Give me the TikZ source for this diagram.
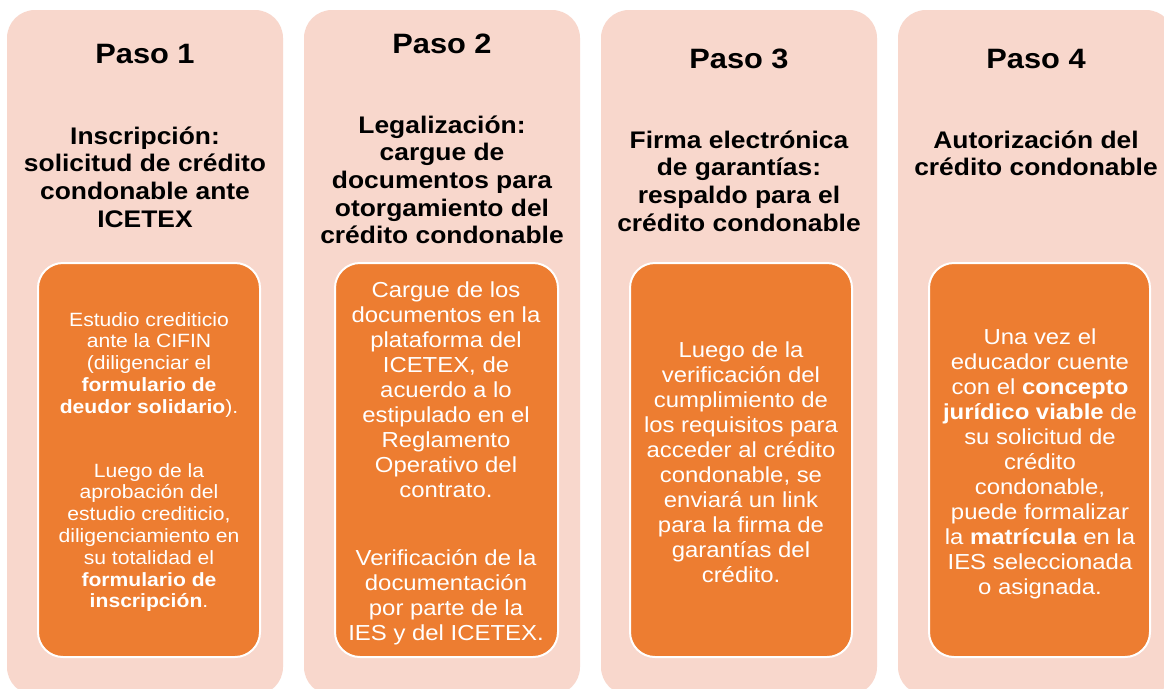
\documentclass[tikz,border=0pt]{standalone}
\usepackage{fontspec}
\setmainfont[FakeStretch=1.1]{Liberation Sans}
\definecolor{peach}{HTML}{F8D7CC}
\definecolor{orng}{HTML}{ED7D31}
\newcommand\linestack[1]{\vtop{\lineskiplimit=-\maxdimen\halign{\hfil##\hfil\cr#1\crcr}}}
\tikzset{
  panel/.style={fill=peach, draw=none, rounded corners=21pt},
  inbox/.style={fill=orng, draw=white, line width=1.5pt, rounded corners=18.75pt},
  heading/.style={anchor=base, inner sep=0pt, font=\fontsize{21}{25}\selectfont\bfseries},
  ttl/.style={anchor=base, inner sep=0pt, font=\fontsize{18}{20.8}\selectfont\bfseries},
  bodyA/.style={anchor=base, inner sep=0pt, text=white, font=\fontsize{14.4}{16.35}\selectfont},
  bodyB/.style={anchor=base, inner sep=0pt, text=white, font=\fontsize{16.3}{18.75}\selectfont},
}
\begin{document}
\begin{tikzpicture}[x=0.75pt, y=-0.75pt]
\useasboundingbox (0,0) rectangle (1164,689);
\clip (0,0) rectangle (1164,689);
\fill[white] (0,0) rectangle (1164,689);
% panels
\path[panel] (7,10) rectangle (283,695);
\path[panel] (304,10) rectangle (580,695);
\path[panel] (601,10) rectangle (877,695);
\path[panel] (898,10) rectangle (1174,695);
% inner boxes
\path[inbox] (38,263) rectangle (260,657);
\path[inbox] (335,263) rectangle (558,657);
\path[inbox] (630,263) rectangle (852,657);
\path[inbox] (929,263) rectangle (1150,657);
% Paso 1
\node[heading] (h1) at (145,63) {Paso 1};
\node[ttl] (t1) at (145,144) {\linestack{Inscripción:\cr solicitud de crédito\cr condonable ante\cr ICETEX}};
\node[bodyA] (b1a) at (149,326) {\linestack{Estudio crediticio\cr ante la CIFIN\cr (diligenciar el\cr \textbf{formulario de}\cr \textbf{deudor solidario}).}};
\node[bodyA] (b1b) at (149,477) {\linestack{Luego de la\cr aprobación del\cr estudio crediticio,\cr diligenciamiento en\cr su totalidad el\cr \textbf{formulario de}\cr \textbf{inscripción}.}};
% Paso 2
\node[heading] (h2) at (442,53) {Paso 2};
\node[ttl] (t2) at (442,133) {\linestack{Legalización:\cr cargue de\cr documentos para\cr otorgamiento del\cr crédito condonable}};
\node[bodyB] (b2a) at (446,297) {\linestack{Cargue de los\cr documentos en la\cr plataforma del\cr ICETEX, de\cr acuerdo a lo\cr estipulado en el\cr Reglamento\cr Operativo del\cr contrato.}};
\node[bodyB] (b2b) at (446,565) {\linestack{Verificación de la\cr documentación\cr por parte de la\cr IES y del ICETEX.}};
% Paso 3
\node[heading] (h3) at (739,68) {Paso 3};
\node[ttl] (t3) at (739,148) {\linestack{Firma electrónica\cr de garantías:\cr respaldo para el\cr crédito condonable}};
\node[bodyB] (b3) at (741,357) {\linestack{Luego de la\cr verificación del\cr cumplimiento de\cr los requisitos para\cr acceder al crédito\cr condonable, se\cr enviará un link\cr para la firma de\cr garantías del\cr crédito.}};
% Paso 4
\node[heading] (h4) at (1036,68) {Paso 4};
\node[ttl] (t4) at (1036,148) {\linestack{Autorización del\cr crédito condonable}};
\node[bodyB] (b4) at (1040,344) {\linestack{Una vez el\cr educador cuente\cr con el \textbf{concepto}\cr \textbf{jurídico viable} de\cr su solicitud de\cr crédito\cr condonable,\cr puede formalizar\cr la \textbf{matrícula} en la\cr IES seleccionada\cr o asignada.}};
\end{tikzpicture}
\end{document}
